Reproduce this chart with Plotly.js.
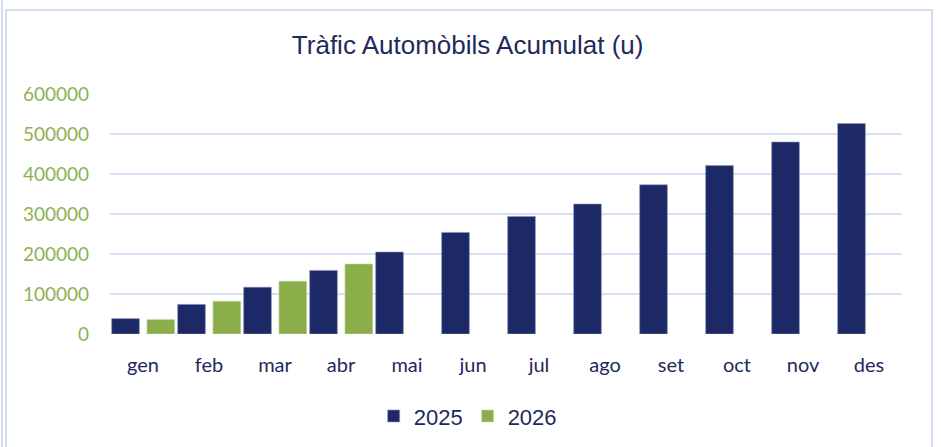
<!DOCTYPE html>
<html>
<head>
<meta charset="utf-8">
<script src="https://cdn.plot.ly/plotly-3.0.1.min.js"></script>
<style>
  body { margin: 0; background: #fff; }
  #wrap { position: relative; width: 941px; height: 447px; overflow: hidden; }
  #plot { position: absolute; left: 0; top: 0; width: 941px; height: 447px; }
  .frame { position: absolute; pointer-events: none; }
</style>
</head>
<body>
<div id="wrap">
  <div class="frame" style="left:1px; top:0; width:2px; height:447px; background:#D5DBF3;"></div>
  <div class="frame" style="left:5px; top:9px; width:924px; height:460px; border:2px solid #D5DBF3;"></div>
  <div id="plot"></div>
</div>
<script>
// months (catalan abbreviations)
const months = ['gen', 'feb', 'mar', 'abr', 'mai', 'jun', 'jul', 'ago', 'set', 'oct', 'nov', 'des'];
// cumulative traffic
const traffic2025 = [38500, 74000, 117000, 159000, 205000, 254000, 294000, 325000, 373000, 421000, 480000, 526000];
const traffic2026 = [36000, 82000, 132000, 175000];
const yTicks = [0, 100000, 200000, 300000, 400000, 500000, 600000];

const navy = '#1C2966';
const green = '#8BAE4B';

const data = [
  {
    x: months, y: traffic2025, type: 'bar', name: '2025',
    marker: {color: navy, line: {color: '#8A93B8', width: 0.6}}, width: 0.42, offset: -0.475
  },
  {
    x: months.slice(0, traffic2026.length), y: traffic2026, type: 'bar', name: '2026',
    marker: {color: green, line: {color: '#C4D6A3', width: 0.6}}, width: 0.42, offset: 0.06
  }
];

const layout = {
  width: 941, height: 447,
  margin: {l: 110, r: 39, t: 94, b: 113},
  paper_bgcolor: 'rgba(0,0,0,0)',
  plot_bgcolor: 'rgba(0,0,0,0)',
  barmode: 'group',
  title: {
    text: 'Tràfic Automòbils Acumulat (u)',
    font: {family: 'Liberation Sans, Arial, sans-serif', size: 26, color: '#1F2A5C'},
    x: 0.497, xanchor: 'center', y: 0.9, yanchor: 'middle', xref: 'container', yref: 'container'
  },
  xaxis: {
    type: 'category',
    categoryarray: months,
    range: [-0.5, months.length - 0.5],
    tickangle: 0,
    tickfont: {family: 'Lato, sans-serif', size: 20, color: '#1F2A5C'},
    showgrid: false, zeroline: false, showline: false,
    ticks: '', ticklabelstandoff: 17
  },
  yaxis: {
    range: [0, 600000],
    tickvals: yTicks,
    ticktext: yTicks.map(String),
    tickfont: {family: 'Lato, sans-serif', size: 19, color: '#8DB255'},
    gridcolor: '#D9DEF4', gridwidth: 2,
    zeroline: false, showline: false,
    ticks: '', ticklabelstandoff: 20
  },
  showlegend: true,
  legend: {
    orientation: 'h',
    x: 0.497, xref: 'container', xanchor: 'center',
    y: 0.069, yref: 'container', yanchor: 'middle',
    font: {family: 'Liberation Sans, Arial, sans-serif', size: 22, color: '#1F2A5C'},
    itemwidth: 30
  }
};

Plotly.newPlot('plot', data, layout, {displayModeBar: false, staticPlot: true});
</script>
</body>
</html>
